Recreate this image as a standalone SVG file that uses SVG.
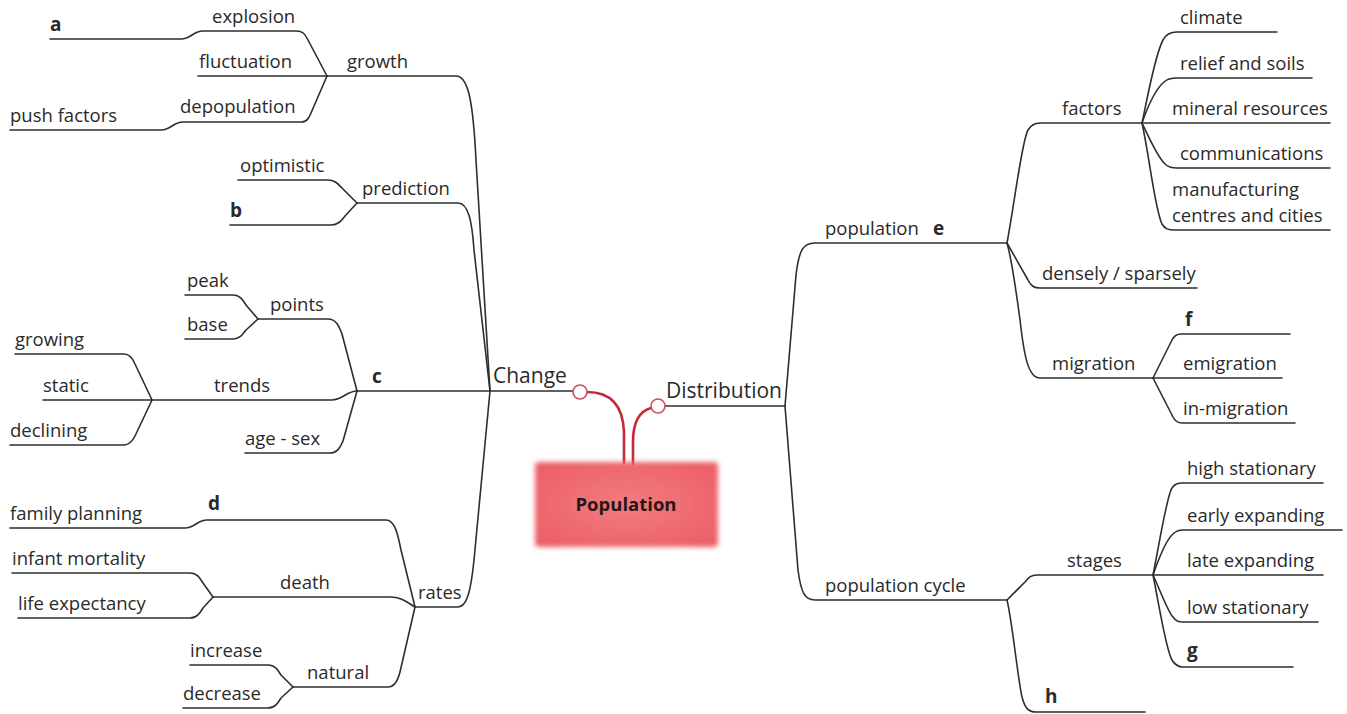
<svg xmlns="http://www.w3.org/2000/svg" width="1347" height="714" viewBox="0 0 1347 714">
  <defs>
    <filter id="soft" x="-10%" y="-20%" width="120%" height="140%">
      <feGaussianBlur stdDeviation="2.5"/>
    </filter>
    <radialGradient id="boxFill" cx="50%" cy="50%" r="65%">
      <stop offset="0%" stop-color="#f27c80"/>
      <stop offset="100%" stop-color="#eb5f66"/>
    </radialGradient>
  </defs>
  <style>
    .br { fill: none; stroke: #2e2e2e; stroke-width: 1.6; stroke-linecap: round; stroke-linejoin: round; }
    .red { fill: none; stroke: #c42a3a; stroke-width: 2.6; stroke-linecap: round; }
    .knob { fill: #ffffff; stroke: #c8505c; stroke-width: 1.6; }
    text { font-family: "Open Sans", "Noto Sans", "Liberation Sans", sans-serif; fill: #2a2a2a; }
    .lbl { font-size: 18.5px; }
    .key { font-size: 19px; font-weight: bold; }
    .main { font-size: 21px; }
    .root { font-size: 18.5px; font-weight: bold; fill: #2a1616; }
  </style>
  <rect width="1347" height="714" fill="#ffffff"/>

  <!-- branch lines -->
  <g id="connectors">
    <!-- growth -->
    <path class="br" d="M 50 39 L 181 39 C 191 39 193 31 203 31 L 296 31 C 303 31 305 34 308 40 L 327 76"/>
    <path class="br" d="M 198 76 L 327 76"/>
    <path class="br" d="M 10 130 L 161 130 C 171 130 173 122 183 122 L 301 122 C 307 122 309 118 311 113 L 327 76"/>
    <path class="br" d="M 327 76 L 456 76 C 468 76 473 100 476 160 L 490 391"/>
    <!-- prediction -->
    <path class="br" d="M 238 180 L 328 180 C 335 180 338 184 342 188 L 357 203"/>
    <path class="br" d="M 230 225 L 331 225 C 338 225 341 221 345 216 L 357 203"/>
    <path class="br" d="M 357 203 L 458 203 C 468 203 472 220 474 250 L 490 391"/>
    <!-- points / trends / age-sex -->
    <path class="br" d="M 185 295 L 233 295 C 240 295 243 300 246 305 L 258 319"/>
    <path class="br" d="M 185 339 L 233 339 C 240 339 243 334 246 330 L 258 319"/>
    <path class="br" d="M 258 319 L 328 319 C 336 319 339 326 342 334 L 357 391"/>
    <path class="br" d="M 15 354 L 124 354 C 130 354 133 359 135 364 L 152 400"/>
    <path class="br" d="M 10 445 L 124 445 C 130 445 133 440 135 436 L 152 400"/>
    <path class="br" d="M 43 400 L 332 400 C 342 400 347 391 357 391"/>
    <path class="br" d="M 245 453 L 330 453 C 337 453 340 448 343 441 L 357 391"/>
    <path class="br" d="M 357 391 L 573 391"/>
    <!-- rates -->
    <path class="br" d="M 10 528 L 185 528 C 195 528 197 520 207 520 L 386 520 C 395 520 398 535 401 550 L 415 607"/>
    <path class="br" d="M 12 573 L 190 573 C 197 573 200 578 203 583 L 213 597"/>
    <path class="br" d="M 18 618 L 190 618 C 197 618 200 613 203 608 L 213 597"/>
    <path class="br" d="M 213 597 L 390 597 C 402 597 408 603 415 607"/>
    <path class="br" d="M 190 665 L 268 665 C 275 665 278 670 281 675 L 293 687"/>
    <path class="br" d="M 183 708 L 268 708 C 275 708 278 703 281 698 L 293 687"/>
    <path class="br" d="M 293 687 L 388 687 C 395 687 398 680 400 672 L 415 607"/>
    <path class="br" d="M 415 607 L 458 607 C 467 607 471 590 474 560 L 490 391"/>

    <!-- distribution trunk -->
    <path class="br" d="M 665 406 L 785 406"/>
    <path class="br" d="M 785 406 L 796 275 C 799 250 803 243 815 243 L 1007 243"/>
    <path class="br" d="M 785 406 L 798 570 C 801 593 805 600 815 600 L 1007 600"/>
    <!-- population e -->
    <path class="br" d="M 1007 243 C 1015 200 1022 140 1028 130 C 1031 125 1034 123 1040 123 L 1142 123"/>
    <path class="br" d="M 1007 243 L 1028 280 C 1031 286 1034 288 1040 288 L 1197 288"/>
    <path class="br" d="M 1007 243 C 1012 260 1016 290 1020 320 C 1024 355 1028 378 1040 378 L 1153 378"/>
    <!-- factors -->
    <path class="br" d="M 1142 123 C 1148 95 1155 55 1163 40 C 1166 34 1170 32 1177 32 L 1277 32"/>
    <path class="br" d="M 1142 123 C 1150 100 1158 87 1164 82 C 1167 79 1171 78 1177 78 L 1312 78"/>
    <path class="br" d="M 1142 123 L 1330 123"/>
    <path class="br" d="M 1142 123 C 1150 140 1158 158 1165 164 C 1168 167 1172 168 1177 168 L 1330 168"/>
    <path class="br" d="M 1142 123 C 1150 160 1155 210 1162 224 C 1165 229 1168 230 1175 230 L 1330 230"/>
    <!-- migration -->
    <path class="br" d="M 1153 378 L 1172 340 C 1174 336 1176 334 1181 334 L 1290 334"/>
    <path class="br" d="M 1153 378 L 1282 378"/>
    <path class="br" d="M 1153 378 L 1173 417 C 1175 421 1177 423 1182 423 L 1295 423"/>
    <!-- population cycle -->
    <path class="br" d="M 1007 600 L 1025 582 C 1029 577 1031 575 1037 575 L 1153 575"/>
    <path class="br" d="M 1007 600 C 1012 620 1018 680 1022 697 C 1025 708 1028 712 1036 712 L 1145 712"/>
    <!-- stages -->
    <path class="br" d="M 1153 575 C 1160 540 1167 495 1172 488 C 1175 484 1177 483 1183 483 L 1323 483"/>
    <path class="br" d="M 1153 575 C 1160 555 1168 538 1173 534 C 1176 531 1178 530 1183 530 L 1342 530"/>
    <path class="br" d="M 1153 575 L 1323 575"/>
    <path class="br" d="M 1153 575 C 1160 590 1168 612 1173 617 C 1176 621 1178 622 1183 622 L 1318 622"/>
    <path class="br" d="M 1153 575 C 1160 610 1166 650 1172 660 C 1175 665 1178 667 1183 667 L 1293 667"/>

    <!-- red stems from the central box -->
    <path class="red" d="M 587 392 C 610 392 623 405 624 432 L 624 464"/>
    <path class="red" d="M 651 408 C 640 411 633 421 633 442 L 633 464"/>
    <circle class="knob" cx="580" cy="392" r="7"/>
    <circle class="knob" cx="658" cy="406" r="7"/>
  </g>

  <!-- central topic -->
  <g id="node-population">
    <rect x="535" y="462" width="183" height="85" rx="4" fill="url(#boxFill)" filter="url(#soft)"/>
    <text class="root" x="626" y="511" text-anchor="middle">Population</text>
  </g>

  <!-- Change branch -->
  <g id="node-change"><text class="main" x="493" y="383">Change</text></g>
  <g id="node-growth"><text class="lbl" x="347" y="68">growth</text></g>
  <g id="node-a"><text class="key" x="50" y="31">a</text></g>
  <g id="node-explosion"><text class="lbl" x="212" y="23">explosion</text></g>
  <g id="node-fluctuation"><text class="lbl" x="199" y="68">fluctuation</text></g>
  <g id="node-depopulation"><text class="lbl" x="180" y="113">depopulation</text></g>
  <g id="node-push-factors"><text class="lbl" x="10" y="122">push factors</text></g>
  <g id="node-prediction"><text class="lbl" x="362" y="195">prediction</text></g>
  <g id="node-optimistic"><text class="lbl" x="240" y="172">optimistic</text></g>
  <g id="node-b"><text class="key" x="230" y="217">b</text></g>
  <g id="node-c"><text class="key" x="372" y="383">c</text></g>
  <g id="node-points"><text class="lbl" x="270" y="311">points</text></g>
  <g id="node-peak"><text class="lbl" x="187" y="287">peak</text></g>
  <g id="node-base"><text class="lbl" x="187" y="331">base</text></g>
  <g id="node-trends"><text class="lbl" x="214" y="392">trends</text></g>
  <g id="node-growing"><text class="lbl" x="15" y="346">growing</text></g>
  <g id="node-static"><text class="lbl" x="43" y="392">static</text></g>
  <g id="node-declining"><text class="lbl" x="10" y="437">declining</text></g>
  <g id="node-age-sex"><text class="lbl" x="245" y="445">age - sex</text></g>
  <g id="node-rates"><text class="lbl" x="418" y="599">rates</text></g>
  <g id="node-d"><text class="key" x="208" y="510">d</text></g>
  <g id="node-family-planning"><text class="lbl" x="10" y="520">family planning</text></g>
  <g id="node-death"><text class="lbl" x="280" y="589">death</text></g>
  <g id="node-infant-mortality"><text class="lbl" x="12" y="565">infant mortality</text></g>
  <g id="node-life-expectancy"><text class="lbl" x="18" y="610">life expectancy</text></g>
  <g id="node-natural"><text class="lbl" x="307" y="679">natural</text></g>
  <g id="node-increase"><text class="lbl" x="190" y="657">increase</text></g>
  <g id="node-decrease"><text class="lbl" x="183" y="700">decrease</text></g>

  <!-- Distribution branch -->
  <g id="node-distribution"><text class="main" x="666" y="398">Distribution</text></g>
  <g id="node-population-e"><text class="lbl" x="825" y="235">population</text><text class="key" x="933" y="235">e</text></g>
  <g id="node-factors"><text class="lbl" x="1062" y="115">factors</text></g>
  <g id="node-climate"><text class="lbl" x="1180" y="24">climate</text></g>
  <g id="node-relief"><text class="lbl" x="1180" y="70">relief and soils</text></g>
  <g id="node-mineral"><text class="lbl" x="1172" y="115">mineral resources</text></g>
  <g id="node-communications"><text class="lbl" x="1180" y="160">communications</text></g>
  <g id="node-manufacturing"><text class="lbl" x="1172" y="196">manufacturing</text><text class="lbl" x="1172" y="222">centres and cities</text></g>
  <g id="node-densely"><text class="lbl" x="1042" y="280">densely / sparsely</text></g>
  <g id="node-migration"><text class="lbl" x="1052" y="370">migration</text></g>
  <g id="node-f"><text class="key" x="1185" y="326">f</text></g>
  <g id="node-emigration"><text class="lbl" x="1183" y="370">emigration</text></g>
  <g id="node-in-migration"><text class="lbl" x="1183" y="415">in-migration</text></g>
  <g id="node-population-cycle"><text class="lbl" x="825" y="592">population cycle</text></g>
  <g id="node-stages"><text class="lbl" x="1067" y="567">stages</text></g>
  <g id="node-high-stationary"><text class="lbl" x="1187" y="475">high stationary</text></g>
  <g id="node-early-expanding"><text class="lbl" x="1187" y="522">early expanding</text></g>
  <g id="node-late-expanding"><text class="lbl" x="1187" y="567">late expanding</text></g>
  <g id="node-low-stationary"><text class="lbl" x="1187" y="614">low stationary</text></g>
  <g id="node-g"><text class="key" x="1187" y="657">g</text></g>
  <g id="node-h"><text class="key" x="1045" y="703">h</text></g>
</svg>
